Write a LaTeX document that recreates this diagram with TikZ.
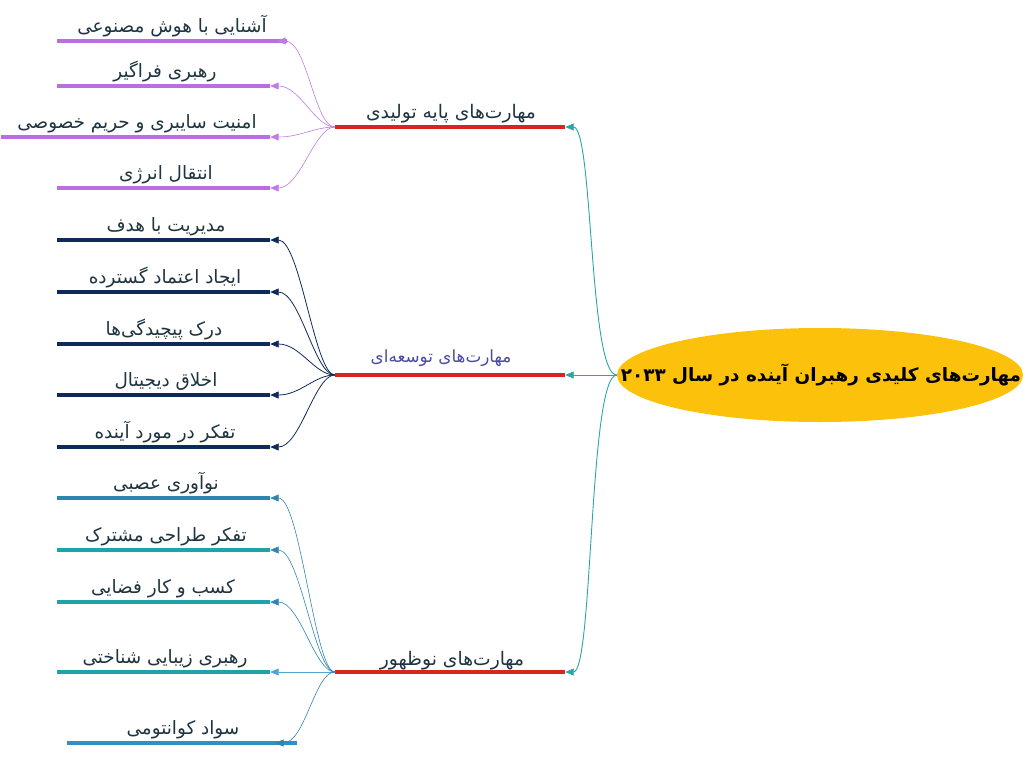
\documentclass[tikz,border=0pt]{standalone}
\usepackage{fontspec}
\newfontfamily\fa[Script=Arabic]{DejaVu Sans}
\TeXXeTstate=1
\usetikzlibrary{arrows.meta,shapes.geometric}
\definecolor{gold}{HTML}{FCC10A}
\definecolor{bred}{HTML}{D7261E}
\definecolor{teal}{HTML}{2AA6A6}
\definecolor{purp}{HTML}{B96FE0}
\definecolor{purpc}{HTML}{BE7CE6}
\definecolor{navy}{HTML}{0E2A5A}
\definecolor{gblue}{HTML}{2E86B0}
\definecolor{gteal}{HTML}{1EA3A8}
\definecolor{glight}{HTML}{4FA6D0}
\definecolor{gblue2}{HTML}{2E90C8}
\definecolor{txt}{HTML}{1E3440}
\definecolor{bviolet}{HTML}{4A4AA8}
\newcommand\rl[1]{\beginR #1\endR}
\begin{document}
\begin{tikzpicture}[x=1pt,y=-1pt,
  lbl/.style={font=\fa\fontsize{18.4}{21}\selectfont, text=txt, anchor=base, inner sep=0pt},
  blbl/.style={font=\fa\fontsize{18.7}{22}\selectfont, text=txt, anchor=base, inner sep=0pt},
  bar/.style={rectangle, draw=none, inner sep=0pt, minimum height=4pt},
  tip/.style={-{Triangle[length=8.5pt,width=7pt]}},
  conn/.style={tip, line width=0.8pt, to path={.. controls +(-20pt,0pt) and +(30pt,0pt) .. (\tikztotarget)}},
  mconn/.style={tip, line width=0.9pt, draw=teal, to path={.. controls +(-28pt,0pt) and +(28pt,0pt) .. (\tikztotarget)}},
]
\useasboundingbox (0,0) rectangle (1028,761);

% centre
\node[ellipse, fill=gold, minimum width=406pt, minimum height=94pt, inner sep=0pt] (c) at (820,375) {};
\node[font=\fa\bfseries\fontsize{18.4}{22}\selectfont, text=black, inner sep=0pt] (ct) at (821,375)
      {\rl{مهارت‌های کلیدی رهبران آینده در سال ۲۰۳۳}};

% branch bars
\node[bar, fill=bred, minimum width=230pt] (b1) at (450,127) {};
\node[bar, fill=bred, minimum width=230pt] (b2) at (450,375) {};
\node[bar, fill=bred, minimum width=230pt] (b3) at (450,672) {};
\node[blbl] (t1) at (451,118) {\rl{مهارت‌های پایه تولیدی}};
\node[blbl, text=bviolet, font=\fa\fontsize{16.8}{19}\selectfont] (t2) at (441,362) {\rl{مهارت‌های توسعه‌ای}};
\node[blbl] (t3) at (452,665) {\rl{مهارت‌های نوظهور}};

\draw[mconn] (c.west) to (b1.east);
\draw[tip, line width=0.9pt, draw=teal] (c.west) -- (b2.east);
\draw[mconn] (c.west) to (b3.east);

% group 1
\node[bar, fill=purp, minimum width=230pt] (a1) at (172,41) {};
\node[bar, fill=purp, minimum width=213pt] (a2) at (163.5,86) {};
\node[bar, fill=purp, minimum width=269pt] (a3) at (135.5,137) {};
\node[bar, fill=purp, minimum width=213pt] (a4) at (163.5,188) {};
\coordinate (a1e) at (277,41);
\node[lbl] (a1t) at (172,32) {\rl{آشنایی با هوش مصنوعی}};
\node[lbl] (a2t) at (165,77) {\rl{رهبری فراگیر}};
\node[lbl] (a3t) at (137,128) {\rl{امنیت سایبری و حریم خصوصی}};
\node[lbl] (a4t) at (166,179) {\rl{انتقال انرژی}};
\foreach \t in {a1e,a2.east,a3.east,a4.east}
  \draw[conn, draw=purpc, line width=0.6pt] (b1.west) to (\t);

% group 2
\foreach \n/\y in {d1/240,d2/292,d3/344,d4/395,d5/447}
  \node[bar, fill=navy, minimum width=213pt] (\n) at (163.5,\y) {};
\node[lbl] (d1t) at (166,231) {\rl{مدیریت با هدف}};
\node[lbl] (d2t) at (165,283) {\rl{ایجاد اعتماد گسترده}};
\node[lbl] (d3t) at (164,335) {\rl{درک پیچیدگی‌ها}};
\node[lbl] (d4t) at (166,386) {\rl{اخلاق دیجیتال}};
\node[lbl] (d5t) at (165,438) {\rl{تفکر در مورد آینده}};
\foreach \n in {d1,d2,d3,d4,d5}
  \draw[conn, draw=navy] (b2.west) to (\n.east);

% group 3
\node[bar, fill=gblue, minimum width=213pt] (e1) at (163.5,498) {};
\node[bar, fill=gteal, minimum width=213pt] (e2) at (163.5,550) {};
\node[bar, fill=gteal, minimum width=213pt] (e3) at (163.5,602) {};
\node[bar, fill=gteal, minimum width=213pt] (e4) at (163.5,672) {};
\node[bar, fill=gblue2, minimum width=230pt] (e5) at (182,743) {};
\coordinate (e5e) at (275,743);
\node[lbl] (e1t) at (166,489) {\rl{نوآوری عصبی}};
\node[lbl] (e2t) at (166,541) {\rl{تفکر طراحی مشترک}};
\node[lbl] (e3t) at (163,593) {\rl{کسب و کار فضایی}};
\node[lbl] (e4t) at (165,663) {\rl{رهبری زیبایی شناختی}};
\node[lbl] (e5t) at (183,734) {\rl{سواد کوانتومی}};
\draw[conn, draw=gblue, line width=0.6pt] (b3.west) to (e1.east);
\draw[conn, draw=gblue, line width=0.6pt] (b3.west) to (e2.east);
\draw[conn, draw=gblue, line width=0.6pt] (b3.west) to (e3.east);
\draw[tip, draw=glight, line width=0.6pt] (b3.west) -- (e4.east);
\draw[conn, draw=gblue, line width=0.6pt] (b3.west) to (e5e);
\end{tikzpicture}
\end{document}
